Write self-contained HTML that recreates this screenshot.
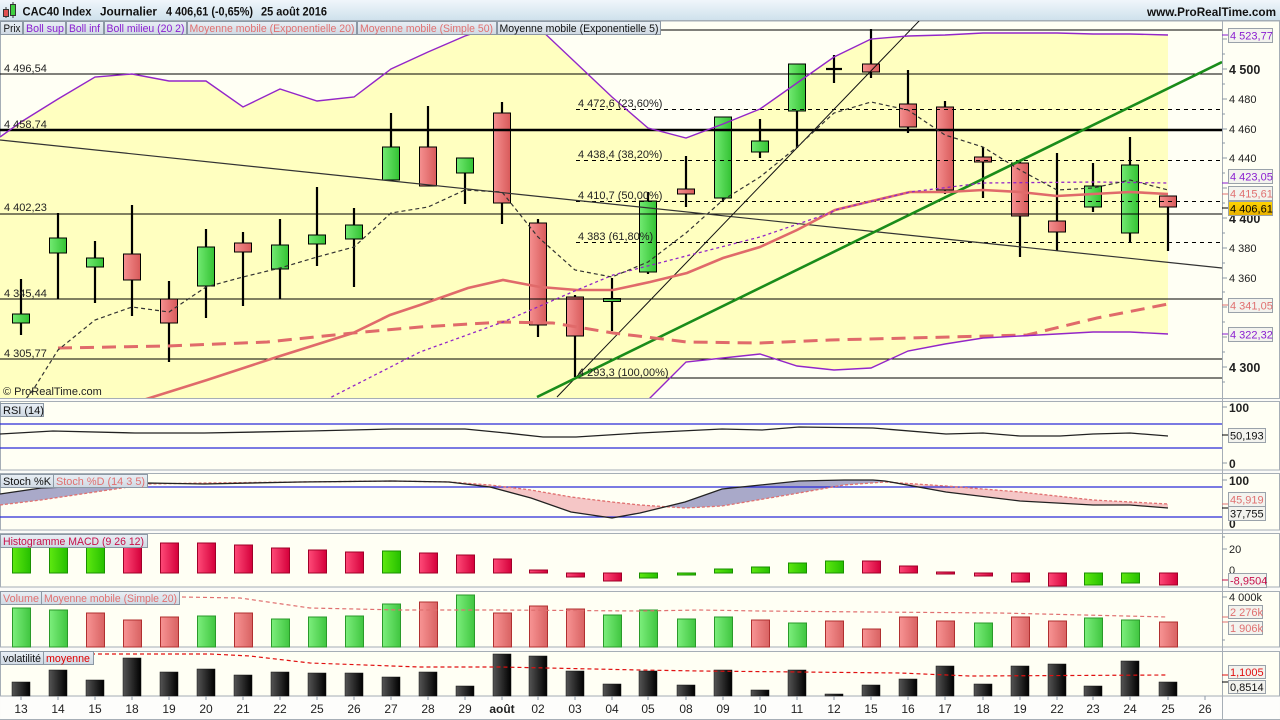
<!DOCTYPE html>
<html><head><meta charset="utf-8"><style>
html,body{margin:0;padding:0;background:#fff;}
svg{display:block;font-family:"Liberation Sans",Arial,sans-serif;}
</style></head><body>
<svg width="1280" height="720" viewBox="0 0 1280 720" xmlns="http://www.w3.org/2000/svg">
<defs>
<linearGradient id="tb" x1="0" y1="0" x2="0" y2="1"><stop offset="0" stop-color="#f0f6fb"/><stop offset="1" stop-color="#cfe1ec"/></linearGradient>
<linearGradient id="lb" x1="0" y1="0" x2="0" y2="1"><stop offset="0" stop-color="#e9eff5"/><stop offset="1" stop-color="#cfd9e3"/></linearGradient>
<linearGradient id="gG" x1="0" x2="1"><stop offset="0" stop-color="#72ea72"/><stop offset="1" stop-color="#33c233"/></linearGradient>
<linearGradient id="gR" x1="0" x2="1"><stop offset="0" stop-color="#f59090"/><stop offset="1" stop-color="#d85a5a"/></linearGradient>
<linearGradient id="mG" x1="0" x2="1"><stop offset="0" stop-color="#5ee810"/><stop offset="1" stop-color="#26c000"/></linearGradient>
<linearGradient id="mR" x1="0" x2="1"><stop offset="0" stop-color="#ff4a78"/><stop offset="1" stop-color="#d4003a"/></linearGradient>
<linearGradient id="vG" x1="0" x2="1"><stop offset="0" stop-color="#7cee7c"/><stop offset="1" stop-color="#40c640"/></linearGradient>
<linearGradient id="vR" x1="0" x2="1"><stop offset="0" stop-color="#f89494"/><stop offset="1" stop-color="#d86262"/></linearGradient>
<linearGradient id="kB" x1="0" x2="1"><stop offset="0" stop-color="#555"/><stop offset="1" stop-color="#000"/></linearGradient>
<linearGradient id="gold" x1="0" y1="0" x2="0" y2="1"><stop offset="0" stop-color="#ffd400"/><stop offset="1" stop-color="#e8b000"/></linearGradient>
<clipPath id="cm"><rect x="0" y="21" width="1222" height="377"/></clipPath>
<clipPath id="aboveD"><polygon points="0,473 0,505 41,500 122,488 148,484 204,483 300,482 392,481 449,482 490,485 531,490 571,497 612,502 640,505 685,508 722,506 799,493 844,485 885,482 946,486 1020,492 1093,500 1168,504 1168,473"/></clipPath>
<clipPath id="aboveK"><polygon points="0,473 0,494 41,488 122,485 148,483 204,484 300,482 392,481 449,482 490,487 531,498 571,512 612,518 640,513 685,502 722,489 799,481 844,480 873,480 885,481 946,492 1020,501 1093,505 1130,505 1168,508 1168,473"/></clipPath>
</defs>

<rect x="0" y="0" width="1280" height="720" fill="#fbfbf8"/>

<!-- title bar -->
<rect x="0" y="0" width="1280" height="20" fill="url(#tb)"/>
<line x1="0" y1="20.5" x2="1280" y2="20.5" stroke="#a0acb6"/>
<g>
<line x1="6" y1="7" x2="6" y2="18" stroke="#333" stroke-width="1"/>
<rect x="3.5" y="9.5" width="5" height="7" fill="#e05050" stroke="#333"/>
<line x1="13" y1="2" x2="13" y2="18" stroke="#333" stroke-width="1"/>
<rect x="10.5" y="4.5" width="5" height="11" fill="#40d040" stroke="#333"/>
</g>
<g font-size="12" fill="#111" font-weight="bold">
<text x="22.5" y="15.5" textLength="69" lengthAdjust="spacingAndGlyphs">CAC40 Index</text>
<text x="100" y="15.5" textLength="57" lengthAdjust="spacingAndGlyphs">Journalier</text>
<text x="166" y="15.5" textLength="87" lengthAdjust="spacingAndGlyphs">4 406,61 (-0,65%)</text>
<text x="261" y="15.5" textLength="66" lengthAdjust="spacingAndGlyphs">25 août 2016</text>
<text x="1147" y="16" textLength="129" lengthAdjust="spacingAndGlyphs">www.ProRealTime.com</text>
</g>

<!-- panels backgrounds -->
<g fill="#fffff4" stroke="#a6aeb6" stroke-width="1">
<rect x="0.5" y="21" width="1279" height="377.5"/>
<rect x="0.5" y="401.5" width="1279" height="68.5"/>
<rect x="0.5" y="473.5" width="1279" height="56.5"/>
<rect x="0.5" y="533.5" width="1279" height="53.5"/>
<rect x="0.5" y="591.5" width="1279" height="55.5"/>
<rect x="0.5" y="651.5" width="1279" height="44.5"/>
</g>
<rect x="0.5" y="697" width="1279" height="22" fill="#fdfdfb"/>
<line x1="0" y1="719.5" x2="1280" y2="719.5" stroke="#a6aeb6"/>
<line x1="1222.5" y1="21" x2="1222.5" y2="720" stroke="#a6aeb6"/>

<!-- MAIN PANEL -->
<g clip-path="url(#cm)">
<polygon fill="#ffffc0" points="0,137 21,122 58,99 95,77 132,74 169,81 206,81 243,107 280,89 317,101 354,97 391,69 428,52 465,36 502,24 538,27 575,62 612,97 648,128 686,138 723,124 760,109 797,83 834,57 871,39 908,36 945,35 983,33 1020,33 1057,33 1093,34 1130,34 1168,35 1168,334 1130,332 1093,332 1057,334 1020,336 983,338 945,344 908,351 871,368 834,370 797,366 760,354 723,358 686,362 648,400 612,440 0,440"/>

<g stroke="#000">
<g stroke-width="2.2">
<line x1="21" y1="279" x2="21" y2="335"/>
<line x1="58" y1="213" x2="58" y2="299"/>
<line x1="95" y1="241" x2="95" y2="303"/>
<line x1="132" y1="205" x2="132" y2="316"/>
<line x1="169" y1="281" x2="169" y2="362"/>
<line x1="206" y1="229" x2="206" y2="318"/>
<line x1="243" y1="232" x2="243" y2="306"/>
<line x1="280" y1="219" x2="280" y2="299"/>
<line x1="317" y1="187" x2="317" y2="266"/>
<line x1="354" y1="208" x2="354" y2="287"/>
<line x1="391" y1="113" x2="391" y2="180"/>
<line x1="428" y1="106" x2="428" y2="186"/>
<line x1="465" y1="158" x2="465" y2="204"/>
<line x1="502" y1="102" x2="502" y2="224"/>
<line x1="538" y1="219" x2="538" y2="337"/>
<line x1="575" y1="295" x2="575" y2="377"/>
<line x1="612" y1="278" x2="612" y2="331"/>
<line x1="648" y1="192" x2="648" y2="274"/>
<line x1="686" y1="156" x2="686" y2="207"/>
<line x1="723" y1="117" x2="723" y2="201"/>
<line x1="760" y1="119" x2="760" y2="158"/>
<line x1="797" y1="64" x2="797" y2="148"/>
<line x1="834" y1="55" x2="834" y2="83"/>
<line x1="871" y1="29" x2="871" y2="78"/>
<line x1="908" y1="70" x2="908" y2="133"/>
<line x1="945" y1="101" x2="945" y2="194"/>
<line x1="983" y1="147" x2="983" y2="198"/>
<line x1="1020" y1="162" x2="1020" y2="257"/>
<line x1="1057" y1="153" x2="1057" y2="251"/>
<line x1="1093" y1="163" x2="1093" y2="212"/>
<line x1="1130" y1="137" x2="1130" y2="243"/>
<line x1="1168" y1="196" x2="1168" y2="251"/>
<line x1="826" y1="69" x2="842" y2="69"/>
</g>
<g stroke-width="1">
<rect x="12.5" y="314" width="17" height="9" fill="url(#gG)"/>
<rect x="49.5" y="238" width="17" height="15" fill="url(#gG)"/>
<rect x="86.5" y="258" width="17" height="9" fill="url(#gG)"/>
<rect x="123.5" y="254" width="17" height="26" fill="url(#gR)"/>
<rect x="160.5" y="299" width="17" height="24" fill="url(#gR)"/>
<rect x="197.5" y="247" width="17" height="39" fill="url(#gG)"/>
<rect x="234.5" y="243" width="17" height="9" fill="url(#gR)"/>
<rect x="271.5" y="245" width="17" height="24" fill="url(#gG)"/>
<rect x="308.5" y="235" width="17" height="9" fill="url(#gG)"/>
<rect x="345.5" y="225" width="17" height="14" fill="url(#gG)"/>
<rect x="382.5" y="147" width="17" height="33" fill="url(#gG)"/>
<rect x="419.5" y="147" width="17" height="39" fill="url(#gR)"/>
<rect x="456.5" y="158" width="17" height="15" fill="url(#gG)"/>
<rect x="493.5" y="113" width="17" height="90" fill="url(#gR)"/>
<rect x="529.5" y="223" width="17" height="102" fill="url(#gR)"/>
<rect x="566.5" y="297" width="17" height="39" fill="url(#gR)"/>
<rect x="603.5" y="298.5" width="17" height="3" fill="url(#gG)"/>
<rect x="639.5" y="201" width="17" height="71" fill="url(#gG)"/>
<rect x="677.5" y="189" width="17" height="5" fill="url(#gR)"/>
<rect x="714.5" y="117" width="17" height="81" fill="url(#gG)"/>
<rect x="751.5" y="141" width="17" height="11" fill="url(#gG)"/>
<rect x="788.5" y="64" width="17" height="47" fill="url(#gG)"/>
<rect x="862.5" y="64" width="17" height="8" fill="url(#gR)"/>
<rect x="899.5" y="104" width="17" height="23" fill="url(#gR)"/>
<rect x="936.5" y="107" width="17" height="83" fill="url(#gR)"/>
<rect x="974.5" y="157" width="17" height="5" fill="url(#gR)"/>
<rect x="1011.5" y="163" width="17" height="53" fill="url(#gR)"/>
<rect x="1048.5" y="221" width="17" height="11" fill="url(#gR)"/>
<rect x="1084.5" y="186" width="17" height="21" fill="url(#gG)"/>
<rect x="1121.5" y="165" width="17" height="68" fill="url(#gG)"/>
<rect x="1159.5" y="196" width="17" height="11" fill="url(#gR)"/>
</g>
</g>

<g stroke="#000" fill="none">
<line x1="0" y1="30" x2="1222" y2="30" stroke-width="1"/>
<line x1="0" y1="74" x2="1222" y2="74" stroke-width="1"/>
<line x1="0" y1="130" x2="1222" y2="130" stroke-width="2.4"/>
<line x1="0" y1="214" x2="1222" y2="214" stroke-width="1"/>
<line x1="0" y1="299" x2="1222" y2="299" stroke-width="1"/>
<line x1="0" y1="359" x2="1222" y2="359" stroke-width="1"/>
<line x1="576" y1="378" x2="1222" y2="378" stroke-width="1"/>
<g stroke-dasharray="4,4" stroke-width="1">
<line x1="576" y1="109.5" x2="1222" y2="109.5"/>
<line x1="576" y1="160.5" x2="1222" y2="160.5"/>
<line x1="576" y1="201.5" x2="1222" y2="201.5"/>
<line x1="576" y1="242.5" x2="1222" y2="242.5"/>
</g>
</g>

<line x1="0" y1="140" x2="1222" y2="268" stroke="#333" stroke-width="1.2"/>
<line x1="557" y1="397" x2="920" y2="20" stroke="#111" stroke-width="1"/>
<line x1="537" y1="397" x2="1222" y2="62" stroke="#1a8c1a" stroke-width="2.6"/>

<polyline fill="none" stroke="#e06a6a" stroke-width="3" stroke-dasharray="14,8" points="58,348 167,346 267,342 353,333 420,327 503,322 553,323 613,333 687,342 760,343 830,340 910,338 1027,335 1097,318 1168,304"/>
<polyline fill="none" stroke="#e06a6a" stroke-width="2.6" points="140,401 207,380 277,357 353,333 390,315 420,305 468,288 503,280 540,287 577,290 613,290 650,282 687,273 723,258 760,247 797,230 835,210 872,201 910,192 947,192 983,190 1020,192 1057,196 1093,194 1130,192 1168,194"/>
<polyline fill="none" stroke="#9326c8" stroke-width="1.3" stroke-dasharray="3,3" points="310,408 420,352 503,322 577,290 613,275 686,256 760,237 830,213 835,210 910,192 983,183 1097,182 1168,183"/>
<polyline fill="none" stroke="#333" stroke-width="1.2" stroke-dasharray="4,3" points="22,404 33,390 58,350 95,320 132,307 169,312 206,287 243,277 280,268 317,257 354,247 391,213 428,207 465,190 502,192 538,237 575,270 612,277 648,262 686,233 723,200 760,177 797,147 834,113 871,102 908,110 945,135 983,147 1020,170 1057,190 1093,188 1130,180 1168,190"/>
<polyline fill="none" stroke="#9326c8" stroke-width="1.4" points="0,137 21,122 58,99 95,77 132,74 169,81 206,81 243,107 280,89 317,101 354,97 391,69 428,52 465,36 502,24 538,27 575,62 612,97 648,128 686,138 723,124 760,109 797,83 834,57 871,39 908,36 945,35 983,33 1020,33 1057,33 1093,34 1130,34 1168,35"/>
<polyline fill="none" stroke="#9326c8" stroke-width="1.4" points="612,440 648,400 686,362 723,358 760,354 797,366 834,370 871,368 908,351 945,344 983,338 1020,336 1057,334 1093,332 1130,332 1168,334"/>

<g font-size="11" fill="#222">
<text x="4" y="72">4 496,54</text>
<text x="4" y="128">4 458,74</text>
<text x="4" y="211">4 402,23</text>
<text x="4" y="297">4 345,44</text>
<text x="4" y="357">4 305,77</text>
<text x="578" y="107">4 472,6 (23,60%)</text>
<text x="578" y="158">4 438,4 (38,20%)</text>
<text x="578" y="199">4 410,7 (50,00%)</text>
<text x="578" y="240">4 383 (61,80%)</text>
<text x="578" y="376">4 293,3 (100,00%)</text>
<text x="3" y="395">© ProRealTime.com</text>
</g>
</g>

<!-- legend row -->
<g font-size="11">
<g fill="url(#lb)" stroke="#8c98a4">
<rect x="0.5" y="21.5" width="22" height="13"/>
<rect x="23.5" y="21.5" width="42" height="13"/>
<rect x="66.5" y="21.5" width="37" height="13"/>
<rect x="104.5" y="21.5" width="82" height="13"/>
<rect x="187.5" y="21.5" width="169" height="13"/>
<rect x="357.5" y="21.5" width="139" height="13"/>
<rect x="497.5" y="21.5" width="163" height="13"/>
</g>
<text x="3.5" y="32" fill="#111" textLength="17" lengthAdjust="spacingAndGlyphs">Prix</text>
<text x="26" y="32" fill="#8a1ed0" textLength="38" lengthAdjust="spacingAndGlyphs">Boll sup</text>
<text x="69" y="32" fill="#8a1ed0" textLength="31" lengthAdjust="spacingAndGlyphs">Boll inf</text>
<text x="106.5" y="32" fill="#8a1ed0" textLength="78" lengthAdjust="spacingAndGlyphs">Boll milieu (20 2)</text>
<text x="189.5" y="32" fill="#e07070" textLength="165" lengthAdjust="spacingAndGlyphs">Moyenne mobile (Exponentielle 20)</text>
<text x="360" y="32" fill="#e07070" textLength="133" lengthAdjust="spacingAndGlyphs">Moyenne mobile (Simple 50)</text>
<text x="499.5" y="32" fill="#111" textLength="159" lengthAdjust="spacingAndGlyphs">Moyenne mobile (Exponentielle 5)</text>
</g>

<!-- main right axis -->
<g stroke="#8c98a4" stroke-width="1">
<line x1="1222" y1="39" x2="1227" y2="39"/><line x1="1222" y1="54" x2="1225" y2="54"/>
<line x1="1222" y1="69" x2="1227" y2="69"/><line x1="1222" y1="84" x2="1225" y2="84"/>
<line x1="1222" y1="99" x2="1227" y2="99"/><line x1="1222" y1="114" x2="1225" y2="114"/>
<line x1="1222" y1="129" x2="1227" y2="129"/><line x1="1222" y1="143" x2="1225" y2="143"/>
<line x1="1222" y1="158" x2="1227" y2="158"/><line x1="1222" y1="173" x2="1225" y2="173"/>
<line x1="1222" y1="188" x2="1227" y2="188"/><line x1="1222" y1="203" x2="1225" y2="203"/>
<line x1="1222" y1="218" x2="1227" y2="218"/><line x1="1222" y1="233" x2="1225" y2="233"/>
<line x1="1222" y1="248" x2="1227" y2="248"/><line x1="1222" y1="263" x2="1225" y2="263"/>
<line x1="1222" y1="278" x2="1227" y2="278"/><line x1="1222" y1="292" x2="1225" y2="292"/>
<line x1="1222" y1="307" x2="1227" y2="307"/><line x1="1222" y1="322" x2="1225" y2="322"/>
<line x1="1222" y1="337" x2="1227" y2="337"/><line x1="1222" y1="352" x2="1225" y2="352"/>
<line x1="1222" y1="367" x2="1227" y2="367"/><line x1="1222" y1="382" x2="1225" y2="382"/>
</g>
<g font-size="11" fill="#222">
<text x="1229" y="43">4 520</text>
<text x="1229" y="74" font-size="12.5" font-weight="bold">4 500</text>
<text x="1229" y="103">4 480</text>
<text x="1229" y="133">4 460</text>
<text x="1229" y="162">4 440</text>
<text x="1229" y="223" font-size="12.5" font-weight="bold">4 400</text>
<text x="1229" y="252">4 380</text>
<text x="1229" y="282">4 360</text>
<text x="1229" y="372" font-size="12.5" font-weight="bold">4 300</text>
</g>
<g font-size="11">
<g fill="#f3f3ee" stroke="#9aa2aa">
<rect x="1228.5" y="28.5" width="44" height="14"/>
<rect x="1228.5" y="169.5" width="44" height="14"/>
<rect x="1228.5" y="186.5" width="44" height="14"/>
<rect x="1228.5" y="298.5" width="44" height="14"/>
<rect x="1228.5" y="327.5" width="44" height="14"/>
</g>
<rect x="1228.5" y="201.5" width="44" height="14" fill="url(#gold)" stroke="#9aa2aa"/>
<line x1="1222" y1="35" x2="1228" y2="35" stroke="#8a1ed0"/>
<line x1="1222" y1="183" x2="1228" y2="183" stroke="#8a1ed0"/>
<line x1="1222" y1="194" x2="1228" y2="194" stroke="#e07070"/>
<line x1="1222" y1="208" x2="1228" y2="208" stroke="#000"/>
<line x1="1222" y1="305" x2="1228" y2="305" stroke="#e07070"/>
<line x1="1222" y1="334" x2="1228" y2="334" stroke="#8a1ed0"/>
<text x="1230" y="39.5" fill="#8a1ed0">4 523,77</text>
<text x="1230" y="180.5" fill="#8a1ed0">4 423,05</text>
<text x="1230" y="197.5" fill="#e07070">4 415,61</text>
<text x="1230" y="212.5" fill="#000">4 406,61</text>
<text x="1230" y="309.5" fill="#e07070">4 341,05</text>
<text x="1230" y="338.5" fill="#8a1ed0">4 322,32</text>
</g>

<!-- RSI -->
<line x1="0" y1="424" x2="1222" y2="424" stroke="#2a2ad8" stroke-width="1.3"/>
<line x1="0" y1="448" x2="1222" y2="448" stroke="#2a2ad8" stroke-width="1.3"/>
<polyline fill="none" stroke="#222" stroke-width="1.3" points="0,434 53,431 135,433 204,433 310,431 392,429 465,429 506,433 543,437 576,437 640,433 722,429 762,430 799,427 873,428 946,434 983,433 1020,436 1060,436 1093,434 1130,433 1168,436"/>
<rect x="0.5" y="403.5" width="43" height="13" fill="url(#lb)" stroke="#8c98a4"/>
<text x="3" y="414" font-size="11" fill="#111">RSI (14)</text>
<g font-size="12" font-weight="bold" fill="#222">
<text x="1229" y="412">100</text>
<text x="1229" y="468">0</text>
</g>
<line x1="1222" y1="407" x2="1227" y2="407" stroke="#8c98a4"/>
<line x1="1222" y1="463" x2="1227" y2="463" stroke="#8c98a4"/>
<rect x="1228.5" y="428.5" width="37" height="14" fill="#f3f3ee" stroke="#9aa2aa"/>
<line x1="1222" y1="435" x2="1228" y2="435" stroke="#000"/>
<text x="1230" y="439.5" font-size="11" fill="#111">50,193</text>

<!-- Stochastic -->
<polygon fill="#a9a9c9" clip-path="url(#aboveD)" points="0,494 41,488 122,485 148,483 204,484 300,482 392,481 449,482 490,487 531,498 571,512 612,518 640,513 685,502 722,489 799,481 844,480 873,480 885,481 946,492 1020,501 1093,505 1130,505 1168,508 1168,530 0,530"/>
<polygon fill="#f5c6c6" clip-path="url(#aboveK)" points="0,505 41,500 122,488 148,484 204,483 300,482 392,481 449,482 490,485 531,490 571,497 612,502 640,505 685,508 722,506 799,493 844,485 885,482 946,486 1020,492 1093,500 1168,504 1168,530 0,530"/>
<line x1="0" y1="487" x2="1222" y2="487" stroke="#2a2ad8" stroke-width="1.3"/>
<line x1="0" y1="517" x2="1222" y2="517" stroke="#2a2ad8" stroke-width="1.3"/>
<polyline fill="none" stroke="#e07070" stroke-width="1.3" stroke-dasharray="3,2" points="0,505 41,500 122,488 148,484 204,483 300,482 392,481 449,482 490,485 531,490 571,497 612,502 640,505 685,508 722,506 799,493 844,485 885,482 946,486 1020,492 1093,500 1168,504"/>
<polyline fill="none" stroke="#222" stroke-width="1.3" points="0,494 41,488 122,485 148,483 204,484 300,482 392,481 449,482 490,487 531,498 571,512 612,518 640,513 685,502 722,489 799,481 844,480 873,480 885,481 946,492 1020,501 1093,505 1130,505 1168,508"/>
<rect x="0.5" y="474.5" width="53" height="13" fill="url(#lb)" stroke="#8c98a4"/>
<rect x="53.5" y="474.5" width="94" height="13" fill="url(#lb)" stroke="#8c98a4"/>
<text x="3" y="485" font-size="11" fill="#111" textLength="48" lengthAdjust="spacingAndGlyphs">Stoch %K</text>
<text x="56" y="485" font-size="11" fill="#e07070" textLength="89" lengthAdjust="spacingAndGlyphs">Stoch %D (14 3 5)</text>
<g font-size="12" font-weight="bold" fill="#222">
<text x="1229" y="485">100</text>
<text x="1229" y="528">0</text>
</g>
<line x1="1222" y1="480" x2="1227" y2="480" stroke="#8c98a4"/>
<rect x="1228.5" y="492.5" width="37" height="14" fill="#f3f3ee" stroke="#9aa2aa"/>
<rect x="1228.5" y="506.5" width="37" height="14" fill="#f3f3ee" stroke="#9aa2aa"/>
<line x1="1222" y1="504" x2="1228" y2="504" stroke="#e07070"/>
<line x1="1222" y1="508" x2="1228" y2="508" stroke="#000"/>
<text x="1230" y="503.5" font-size="11" fill="#e07070">45,919</text>
<text x="1230" y="517.5" font-size="11" fill="#111">37,755</text>

<!-- MACD histogram -->
<g stroke-width="1">
<g fill="url(#mG)" stroke="#1a9000">
<rect x="12.5" y="546" width="18" height="27"/><rect x="49.5" y="545" width="18" height="28"/><rect x="86.5" y="545" width="18" height="28"/>
<rect x="382.5" y="551" width="18" height="22"/>
<rect x="639.5" y="573" width="18" height="5"/><rect x="677.5" y="573" width="18" height="2"/>
<rect x="714.5" y="569" width="18" height="4"/><rect x="751.5" y="567" width="18" height="6"/>
<rect x="788.5" y="563" width="18" height="10"/><rect x="825.5" y="561" width="18" height="12"/>
<rect x="1084.5" y="573" width="18" height="12"/><rect x="1121.5" y="573" width="18" height="10"/>
</g>
<g fill="url(#mR)" stroke="#a00028">
<rect x="123.5" y="544" width="18" height="29"/><rect x="160.5" y="543" width="18" height="30"/>
<rect x="197.5" y="543" width="18" height="30"/><rect x="234.5" y="545" width="18" height="28"/>
<rect x="271.5" y="548" width="18" height="25"/><rect x="308.5" y="550" width="18" height="23"/>
<rect x="345.5" y="552" width="18" height="21"/><rect x="419.5" y="553" width="18" height="20"/>
<rect x="456.5" y="555" width="18" height="18"/><rect x="493.5" y="559" width="18" height="14"/>
<rect x="529.5" y="570" width="18" height="3"/><rect x="566.5" y="573" width="18" height="4"/>
<rect x="603.5" y="573" width="18" height="8"/>
<rect x="862.5" y="561" width="18" height="12"/><rect x="899.5" y="566" width="18" height="7"/>
<rect x="936.5" y="572" width="18" height="2"/><rect x="974.5" y="573" width="18" height="3"/>
<rect x="1011.5" y="573" width="18" height="9"/><rect x="1048.5" y="573" width="18" height="13"/>
<rect x="1159.5" y="573" width="18" height="12"/>
</g>
</g>
<rect x="0.5" y="534.5" width="147" height="13" fill="url(#lb)" stroke="#8c98a4"/>
<text x="3" y="545" font-size="11" fill="#c8104a" textLength="141" lengthAdjust="spacingAndGlyphs">Histogramme MACD (9 26 12)</text>
<g font-size="11" fill="#222">
<text x="1229" y="553">20</text>
<text x="1229" y="574">0</text>
</g>
<line x1="1222" y1="549" x2="1227" y2="549" stroke="#8c98a4"/>
<line x1="1222" y1="537" x2="1225" y2="537" stroke="#8c98a4"/>
<rect x="1228.5" y="573.5" width="38" height="14" fill="#f3f3ee" stroke="#9aa2aa"/>
<line x1="1222" y1="580" x2="1228" y2="580" stroke="#c8104a"/>
<text x="1230" y="584.5" font-size="11" fill="#c8104a">-8,9504</text>

<!-- Volume -->
<g stroke-width="1">
<g fill="url(#vG)" stroke="#2a9a2a">
<rect x="12.5" y="608" width="18" height="39"/><rect x="49.5" y="610" width="18" height="37"/>
<rect x="197.5" y="616" width="18" height="31"/><rect x="271.5" y="619" width="18" height="28"/>
<rect x="308.5" y="617" width="18" height="30"/><rect x="345.5" y="616" width="18" height="31"/>
<rect x="382.5" y="604" width="18" height="43"/><rect x="456.5" y="595" width="18" height="52"/>
<rect x="603.5" y="615" width="18" height="32"/><rect x="639.5" y="610" width="18" height="37"/>
<rect x="677.5" y="619" width="18" height="28"/><rect x="714.5" y="617" width="18" height="30"/>
<rect x="788.5" y="623" width="18" height="24"/><rect x="974.5" y="623" width="18" height="24"/>
<rect x="1084.5" y="618" width="18" height="29"/><rect x="1121.5" y="620" width="18" height="27"/>
</g>
<g fill="url(#vR)" stroke="#b03030">
<rect x="86.5" y="613" width="18" height="34"/><rect x="123.5" y="620" width="18" height="27"/>
<rect x="160.5" y="617" width="18" height="30"/><rect x="234.5" y="613" width="18" height="34"/>
<rect x="419.5" y="602" width="18" height="45"/><rect x="493.5" y="613" width="18" height="34"/>
<rect x="529.5" y="606" width="18" height="41"/><rect x="566.5" y="609" width="18" height="38"/>
<rect x="751.5" y="620" width="18" height="27"/><rect x="825.5" y="621" width="18" height="26"/>
<rect x="862.5" y="629" width="18" height="18"/><rect x="899.5" y="617" width="18" height="30"/>
<rect x="936.5" y="621" width="18" height="26"/><rect x="1011.5" y="617" width="18" height="30"/>
<rect x="1048.5" y="621" width="18" height="26"/><rect x="1159.5" y="622" width="18" height="25"/>
</g>
</g>
<polyline fill="none" stroke="#e07070" stroke-width="1.2" stroke-dasharray="4,3" points="21,597 182,597 240,598 310,608 400,610 500,610 640,611 700,610 760,611 870,612 1000,613 1168,617"/>
<rect x="0.5" y="591.5" width="41" height="13" fill="url(#lb)" stroke="#8c98a4"/>
<rect x="41.5" y="591.5" width="138" height="13" fill="url(#lb)" stroke="#8c98a4"/>
<text x="3" y="602" font-size="11" fill="#e07070" textLength="36" lengthAdjust="spacingAndGlyphs">Volume</text>
<text x="44" y="602" font-size="11" fill="#e07070" textLength="133" lengthAdjust="spacingAndGlyphs">Moyenne mobile (Simple 20)</text>
<text x="1229" y="601" font-size="11" fill="#222">4 000k</text>
<line x1="1222" y1="597" x2="1227" y2="597" stroke="#8c98a4"/>
<line x1="1222" y1="640" x2="1225" y2="640" stroke="#8c98a4"/>
<rect x="1228.5" y="605.5" width="34" height="13" fill="#f3f3ee" stroke="#9aa2aa"/>
<rect x="1228.5" y="621.5" width="34" height="13" fill="#f3f3ee" stroke="#9aa2aa"/>
<line x1="1222" y1="617" x2="1228" y2="617" stroke="#e07070"/>
<line x1="1222" y1="622" x2="1228" y2="622" stroke="#e07070"/>
<text x="1230" y="616" font-size="11" fill="#e07070">2 276k</text>
<text x="1230" y="632" font-size="11" fill="#e07070">1 906k</text>

<!-- Volatility -->
<g fill="url(#kB)" stroke="#111" stroke-width="0.5">
<rect x="12" y="682" width="18" height="14"/><rect x="49" y="670" width="18" height="26"/>
<rect x="86" y="680" width="18" height="16"/><rect x="123" y="658" width="18" height="38"/>
<rect x="160" y="672" width="18" height="24"/><rect x="197" y="669" width="18" height="27"/>
<rect x="234" y="675" width="18" height="21"/><rect x="271" y="672" width="18" height="24"/>
<rect x="308" y="673" width="18" height="23"/><rect x="345" y="673" width="18" height="23"/>
<rect x="382" y="677" width="18" height="19"/><rect x="419" y="672" width="18" height="24"/>
<rect x="456" y="686" width="18" height="10"/><rect x="493" y="654" width="18" height="42"/>
<rect x="529" y="656" width="18" height="40"/><rect x="566" y="671" width="18" height="25"/>
<rect x="603" y="684" width="18" height="12"/><rect x="639" y="671" width="18" height="25"/>
<rect x="677" y="685" width="18" height="11"/><rect x="714" y="670" width="18" height="26"/>
<rect x="751" y="690" width="18" height="6"/><rect x="788" y="670" width="18" height="26"/>
<rect x="825" y="694" width="18" height="2"/><rect x="862" y="685" width="18" height="11"/>
<rect x="899" y="679" width="18" height="17"/><rect x="936" y="666" width="18" height="30"/>
<rect x="974" y="684" width="18" height="12"/><rect x="1011" y="666" width="18" height="30"/>
<rect x="1048" y="664" width="18" height="32"/><rect x="1084" y="686" width="18" height="10"/>
<rect x="1121" y="661" width="18" height="35"/><rect x="1159" y="682" width="18" height="14"/>
</g>
<polyline fill="none" stroke="#e01010" stroke-width="1.2" stroke-dasharray="4,3" points="21,654 210,654 250,656 310,663 420,667 500,667 640,670 700,671 800,672 900,673 970,676 1168,675"/>
<rect x="0.5" y="651.5" width="43" height="13" fill="url(#lb)" stroke="#8c98a4"/>
<rect x="43.5" y="651.5" width="50" height="13" fill="url(#lb)" stroke="#8c98a4"/>
<text x="3" y="662" font-size="11" fill="#111" textLength="38" lengthAdjust="spacingAndGlyphs">volatilité</text>
<text x="46" y="662" font-size="11" fill="#e00000" textLength="44" lengthAdjust="spacingAndGlyphs">moyenne</text>
<rect x="1228.5" y="665.5" width="37" height="13" fill="#f3f3ee" stroke="#9aa2aa"/>
<rect x="1228.5" y="680.5" width="37" height="13" fill="#f3f3ee" stroke="#9aa2aa"/>
<line x1="1222" y1="675" x2="1228" y2="675" stroke="#e01010"/>
<line x1="1222" y1="682" x2="1228" y2="682" stroke="#000"/>
<text x="1230" y="676" font-size="11" fill="#e01010">1,1005</text>
<text x="1230" y="691" font-size="11" fill="#111">0,8514</text>

<!-- x axis -->
<g font-size="12" fill="#222" text-anchor="middle">
<text x="21" y="713">13</text><text x="58" y="713">14</text><text x="95" y="713">15</text>
<text x="132" y="713">18</text><text x="169" y="713">19</text><text x="206" y="713">20</text>
<text x="243" y="713">21</text><text x="280" y="713">22</text><text x="317" y="713">25</text>
<text x="354" y="713">26</text><text x="391" y="713">27</text><text x="428" y="713">28</text>
<text x="465" y="713">29</text><text x="502" y="713" font-weight="bold">août</text>
<text x="538" y="713">02</text><text x="575" y="713">03</text><text x="612" y="713">04</text>
<text x="648" y="713">05</text><text x="686" y="713">08</text><text x="723" y="713">09</text>
<text x="760" y="713">10</text><text x="797" y="713">11</text><text x="834" y="713">12</text>
<text x="871" y="713">15</text><text x="908" y="713">16</text><text x="945" y="713">17</text>
<text x="983" y="713">18</text><text x="1020" y="713">19</text><text x="1057" y="713">22</text>
<text x="1093" y="713">23</text><text x="1130" y="713">24</text><text x="1168" y="713">25</text>
<text x="1205" y="713">26</text>
</g>
<g stroke="#8c98a4">
<line x1="21" y1="696" x2="21" y2="700"/><line x1="58" y1="696" x2="58" y2="700"/><line x1="95" y1="696" x2="95" y2="700"/>
<line x1="132" y1="696" x2="132" y2="700"/><line x1="169" y1="696" x2="169" y2="700"/><line x1="206" y1="696" x2="206" y2="700"/>
<line x1="243" y1="696" x2="243" y2="700"/><line x1="280" y1="696" x2="280" y2="700"/><line x1="317" y1="696" x2="317" y2="700"/>
<line x1="354" y1="696" x2="354" y2="700"/><line x1="391" y1="696" x2="391" y2="700"/><line x1="428" y1="696" x2="428" y2="700"/>
<line x1="465" y1="696" x2="465" y2="700"/><line x1="502" y1="696" x2="502" y2="700"/><line x1="538" y1="696" x2="538" y2="700"/>
<line x1="575" y1="696" x2="575" y2="700"/><line x1="612" y1="696" x2="612" y2="700"/><line x1="648" y1="696" x2="648" y2="700"/>
<line x1="686" y1="696" x2="686" y2="700"/><line x1="723" y1="696" x2="723" y2="700"/><line x1="760" y1="696" x2="760" y2="700"/>
<line x1="797" y1="696" x2="797" y2="700"/><line x1="834" y1="696" x2="834" y2="700"/><line x1="871" y1="696" x2="871" y2="700"/>
<line x1="908" y1="696" x2="908" y2="700"/><line x1="945" y1="696" x2="945" y2="700"/><line x1="983" y1="696" x2="983" y2="700"/>
<line x1="1020" y1="696" x2="1020" y2="700"/><line x1="1057" y1="696" x2="1057" y2="700"/><line x1="1093" y1="696" x2="1093" y2="700"/>
<line x1="1130" y1="696" x2="1130" y2="700"/><line x1="1168" y1="696" x2="1168" y2="700"/><line x1="1205" y1="696" x2="1205" y2="700"/>
</g>
</svg>
</body></html>
